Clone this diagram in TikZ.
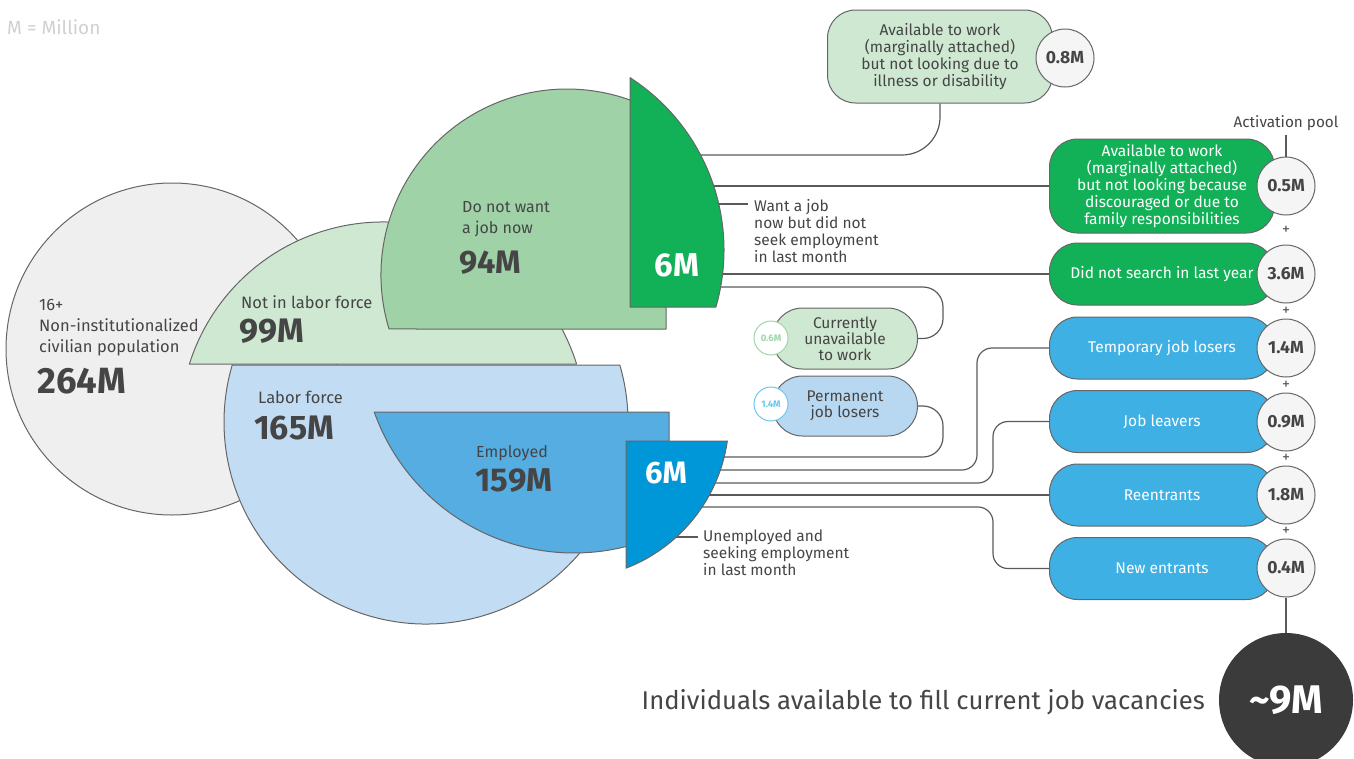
\documentclass[tikz,border=0pt]{standalone}
\usepackage{fontspec}
\setmainfont{Fira Sans}
\usepackage{tikz}
\usetikzlibrary{positioning}
\usetikzlibrary{calc}
\usetikzlibrary{math}

\definecolor{popgray}{HTML}{EFEFEF}
\definecolor{lfblue}{HTML}{C2DCF3}
\definecolor{nlgreen}{HTML}{CFE8D1}
\definecolor{dngreen}{HTML}{9FD2A7}
\definecolor{emblue}{HTML}{55ADE2}
\definecolor{wjgreen}{HTML}{13B157}
\definecolor{unblue}{HTML}{0097D9}
\definecolor{boxblue}{HTML}{3FB0E4}
\definecolor{permblue}{HTML}{B8D8F2}
\definecolor{valgray}{HTML}{F5F5F5}
\definecolor{edgegray}{HTML}{666666}
\definecolor{linegray}{HTML}{5A5A5A}
\definecolor{txtgray}{HTML}{454545}
\definecolor{darkcirc}{HTML}{3B3B3B}
\definecolor{notegray}{HTML}{D0D0D0}
\definecolor{smgreen}{HTML}{9ED6A8}
\definecolor{smblue}{HTML}{6CC7EC}

\tikzset{
  edge/.style={draw=edgegray, line width=1pt},
  conn/.style={draw=linegray, line width=1.2pt, rounded corners=15},
  txt/.style={text=txtgray, inner sep=0pt, align=left, font=\fontsize{16.5}{21}\selectfont},
  bignum/.style={text=txtgray, inner sep=0pt, font=\fontsize{34}{36}\selectfont\bfseries},
  side/.style={text=txtgray, inner sep=0pt, align=left, anchor=north west, font=\fontsize{15.5}{17}\selectfont},
  pill/.style={draw=edgegray, line width=1pt, rounded corners=28, minimum width=225,
    minimum height=62, inner sep=0pt, align=center, font=\fontsize{15.5}{16.9}\selectfont},
  val/.style={circle, draw=edgegray, line width=1pt, fill=valgray, minimum size=58,
    inner sep=0pt, text=txtgray, font=\fontsize{17.5}{17.5}\selectfont\bfseries},
  smallval/.style={circle, line width=1pt, fill=white, minimum size=34, inner sep=0pt,
    font=\fontsize{9.5}{10}\selectfont\bfseries},
  plus/.style={text=linegray, inner sep=0pt, font=\fontsize{16}{16}\selectfont},
}

\begin{document}
\begin{tikzpicture}[x=1pt,y=1pt,line join=round]

  \tikzmath{
    \popr = 166;           % radius population circle
    \lfr  = 202;           % radius labor force circle
    \lfa  = asin(57/\lfr); % flat cut at its top
    \nlr  = 203;           % radius not in labor force circle
    \nla  = asin(61/\nlr); % flat cut at its bottom
    \dnr  = 186;           % radius do not want a job now
    \dna  = asin(54/\dnr);
    \dnb  = acos(99/\dnr);
    \wjr  = 205;           % radius want a job wedge
    \wja  = acos(111/\wjr);
    \wjb  = asin(57/\wjr);
    \emr  = 212;           % radius employed
    \ema  = asin(71/\emr);
    \emb  = acos(95/\emr);
    \unr  = 161;           % radius unemployed wedge
    \una  = asin(23/\unr);
    \unb  = acos(58/\unr);
  }

  \useasboundingbox (0,0) rectangle (1354,-758);

  \node[anchor=west, inner sep=0pt, text=notegray, font=\fontsize{19}{19}\selectfont] (note) at (7,-27) {M = Million};

  % population
  \draw[edge, fill=popgray] (172,-349) circle (\popr);

  % labor force, cut flat at the top
  \draw[edge, fill=lfblue] ($(426,-422)+(\lfa:\lfr)$)
    arc[start angle=\lfa, end angle=-180-\lfa, radius=\lfr] -- cycle;

  % not in labor force, cut flat at the bottom
  \draw[edge, fill=nlgreen] ($(383,-425)+(\nla:\nlr)$)
    arc[start angle=\nla, end angle=180-\nla, radius=\nlr] -- cycle;

  % do not want a job now
  \draw[edge, fill=dngreen] (666,-329) -- ($(567,-275)+(180+\dna:\dnr)$)
    arc[start angle=180+\dna, end angle=\dnb, radius=\dnr] -- cycle;

  % employed
  \draw[edge, fill=emblue] (669,-412) -- ($(574,-341)+(180+\ema:\emr)$)
    arc[start angle=180+\ema, end angle=360-\emb, radius=\emr] -- cycle;

  % texts in the circles
  \node[txt, anchor=west] (poplbl) at (39,-328) {16+\\Non-institutionalized\\civilian population};
  \node[bignum, anchor=west, font=\fontsize{36.5}{38}\selectfont\bfseries] (popnum) at (37,-381) {264M};
  \node[txt, anchor=west] (nllbl) at (241,-302) {Not in labor force};
  \node[bignum, anchor=west] (nlnum) at (239,-331) {99M};
  \node[txt, anchor=west] (lflbl) at (258,-397) {Labor force};
  \node[bignum, anchor=west] (lfnum) at (254,-428) {165M};
  \node[txt, anchor=west, font=\fontsize{16}{21}\selectfont] (dnlbl) at (462,-219.5) {Do not want\\a job now};
  \node[bignum, anchor=west, font=\fontsize{32.5}{34}\selectfont\bfseries] (dnnum) at (459,-263) {94M};
  \node[txt, font=\fontsize{16}{21}\selectfont] (emlbl) at (512,-453) {Employed};
  \node[bignum, font=\fontsize{33}{34}\selectfont\bfseries] (emnum) at (514,-481) {159M};

  % activation pool column
  \node[pill, fill=nlgreen, text=txtgray, minimum height=93] (ill) at (940,-56.5)
    {Available to work\\(marginally attached)\\but not looking due to\\illness or disability};
  \node[val] (v08) at (1065,-58) {0.8M};

  \node[pill, fill=wjgreen, text=white, minimum height=94] (disc) at (1162,-186)
    {Available to work\\(marginally attached)\\but not looking because\\discouraged or due to\\family responsibilities};
  \node[pill, fill=wjgreen, text=white] (nosrch) at (1162,-274) {Did not search in last year};
  \node[pill, fill=boxblue, text=white] (temp) at (1162,-348) {Temporary job losers};
  \node[pill, fill=boxblue, text=white] (leav) at (1162,-421.5) {Job leavers};
  \node[pill, fill=boxblue, text=white] (reen) at (1162,-495) {Reentrants};
  \node[pill, fill=boxblue, text=white] (newe) at (1162,-568.5) {New entrants};

  \node[val] (v05) at (1286,-186) {0.5M};
  \node[val] (v36) at (1286,-274) {3.6M};
  \node[val] (v14) at (1286,-348) {1.4M};
  \node[val] (v09) at (1286,-422) {0.9M};
  \node[val] (v18) at (1286,-495) {1.8M};
  \node[val] (v04) at (1286,-568) {0.4M};

  \foreach \a/\b in {v05/v36, v36/v14, v14/v09, v09/v18, v18/v04}
    \node[plus] (p\a) at ($(\a.south)!0.5!(\b.north)$) {+};

  \node[text=txtgray, inner sep=0pt, font=\fontsize{15.3}{16}\selectfont] (actpool) at (1286,-123) {Activation pool};
  \draw[linegray, line width=1.2pt] ([yshift=-4]actpool.south) -- (v05.north);

  % the sum
  \node[circle, fill=darkcirc, minimum size=134, inner sep=0pt, text=white,
    font=\fontsize{40}{40}\selectfont\bfseries] (total) at (1286,-700) {\textasciitilde 9M};
  \draw[linegray, line width=1.2pt] (v04.south) -- (total.north);
  \node[anchor=east, inner sep=0pt, text=txtgray, font=\fontsize{25.7}{26}\selectfont] (totlbl) at (1205,-702)
    {Individuals available to fill current job vacancies};

  % outside the labor force now
  \node[pill, fill=nlgreen, text=txtgray, minimum width=145, minimum height=61, rounded corners=30,
    font=\fontsize{15.5}{16}\selectfont] (unav) at (845,-338.5) {Currently\\unavailable\\to work};
  \node[pill, fill=permblue, text=txtgray, minimum width=145, minimum height=60, rounded corners=30,
    font=\fontsize{15.5}{16.5}\selectfont] (perm) at (845,-406) {Permanent\\job losers};
  \node[smallval, draw=smgreen, text=smgreen] (s06) at (771,-338) {0.6M};
  \node[smallval, draw=smblue, text=smblue] (s14) at (771,-404) {1.4M};

  % side labels
  \node[side] (want) at (754,-199) {Want a job\\now but did not\\seek employment\\in last month};
  \node[side] (seek) at (703,-530) {Unemployed and\\seeking employment\\in last month};

  % connector starts, under the wedges
  \coordinate (g1) at (650,-155);
  \coordinate (g2) at (650,-186);
  \coordinate (g3) at (650,-204);
  \coordinate (g4) at (650,-274);
  \coordinate (g5) at (650,-287);
  \coordinate (b1) at (645,-457);
  \coordinate (b2) at (645,-470);
  \coordinate (b3) at (645,-483);
  \coordinate (b4) at (645,-495);
  \coordinate (b5) at (645,-507);
  \coordinate (b6) at (645,-537);

  % from want a job
  \draw[conn, rounded corners=38] (g1) -| (ill.south);
  \draw[conn] (g2) -- (g2 -| disc.west);
  \draw[conn] (g3) -- ($(g3 -| want.west)+(-6,0)$);
  \draw[conn] (g4) -- (g4 -| nosrch.west);
  \draw[conn, rounded corners=20] (g5) -| ($(unav.east)+(25,0)$) -- (unav.east);

  % from unemployed
  \draw[conn, rounded corners=20] (b1) -| ($(perm.east)+(25,0)$) -- (perm.east);
  \draw[conn] (b2) -| ($(temp.west)+(-72,0)$) -- (temp.west);
  \draw[conn] (b3) -| ($(leav.west)+(-56,0)$) -- (leav.west);
  \draw[conn] (b4) -- (b4 -| reen.west);
  \draw[conn] (b5) -| ($(newe.west)+(-56,0)$) -- (newe.west);
  \draw[conn] (b6) -- ($(b6 -| seek.west)+(-5,0)$);

  % want a job wedge
  \draw[edge, fill=wjgreen] (630,-307) -- ($(519,-250)+(\wja:\wjr)$)
    arc[start angle=\wja, end angle=-\wjb, radius=\wjr] -- cycle;

  % unemployed wedge
  \draw[edge, fill=unblue] (626,-441) -- ($(568,-418)+(-\una:\unr)$)
    arc[start angle=-\una, end angle=-\unb, radius=\unr] -- cycle;

  \node[bignum, text=white, font=\fontsize{33}{34}\selectfont\bfseries] (wjnum) at (677,-265) {6M};
  \node[bignum, text=white, font=\fontsize{31}{34}\selectfont\bfseries] (unnum) at (666,-473) {6M};

\end{tikzpicture}
\end{document}
